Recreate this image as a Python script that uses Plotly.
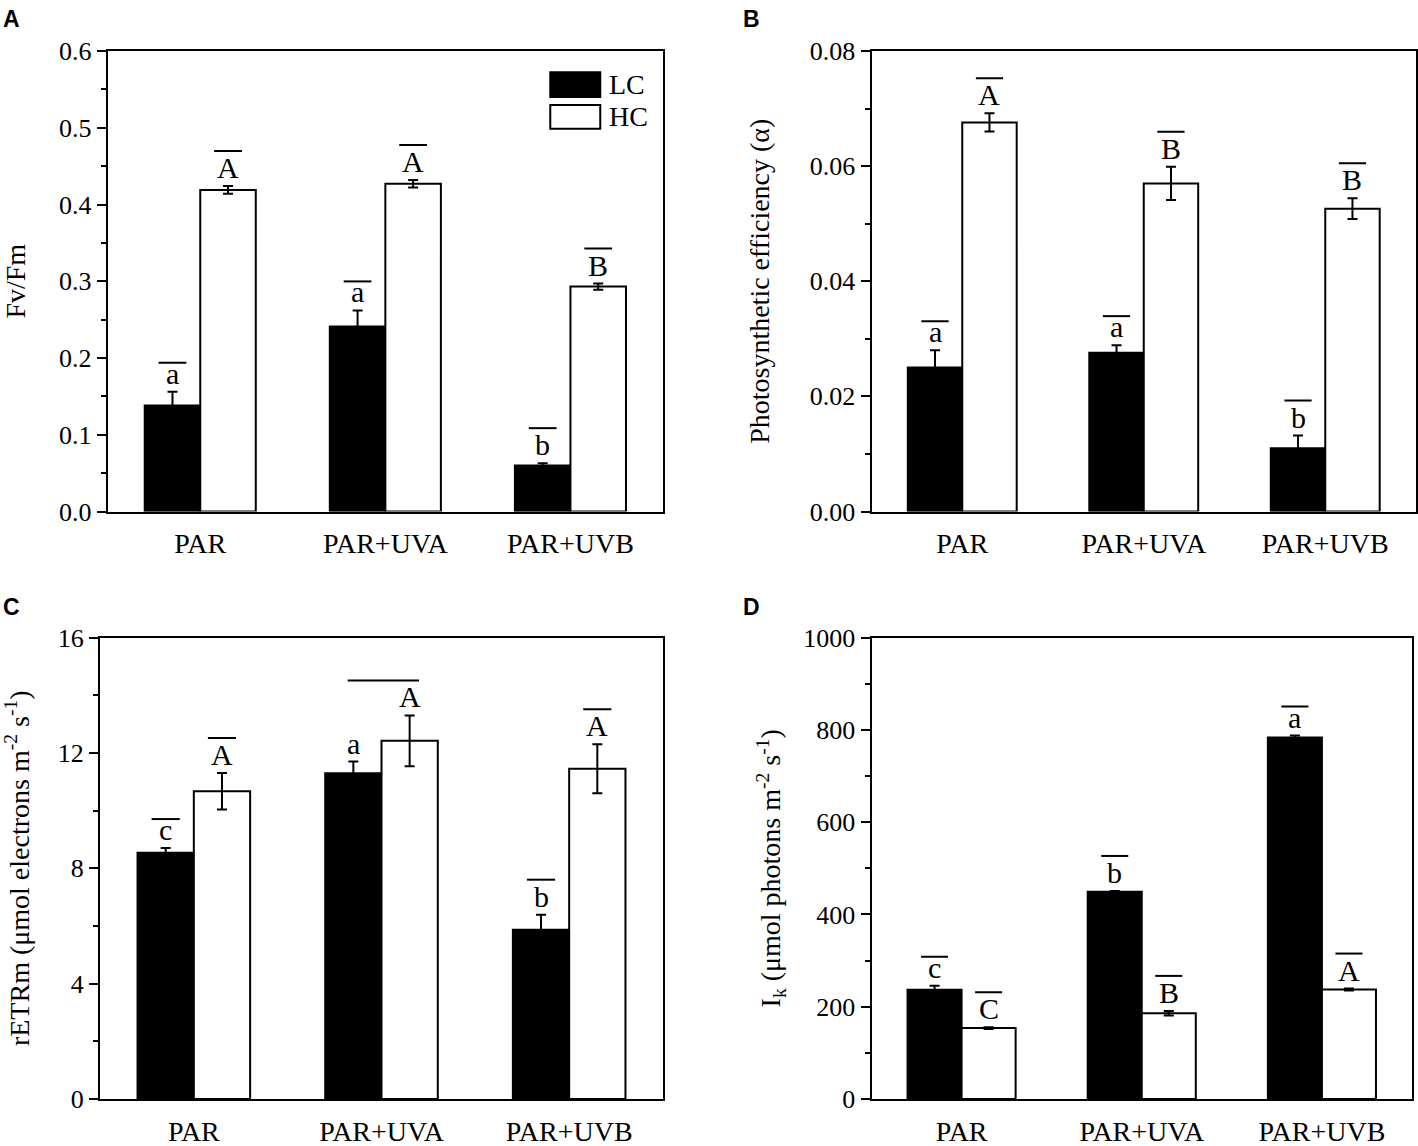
import plotly.graph_objects as go

# ---- data ----
CATEGORIES = ["PAR", "PAR+UVA", "PAR+UVB"]

FVFM_LC = [0.138, 0.241, 0.060]
FVFM_LC_ERR = [0.018, 0.021, 0.003]
FVFM_HC = [0.419, 0.427, 0.293]
FVFM_HC_ERR = [0.005, 0.005, 0.004]

ALPHA_LC = [0.0250, 0.0276, 0.0110]
ALPHA_LC_ERR = [0.0030, 0.0013, 0.0022]
ALPHA_HC = [0.0676, 0.0570, 0.0526]
ALPHA_HC_ERR = [0.0016, 0.0029, 0.0018]

RETR_LC = [8.54, 11.29, 5.87]
RETR_LC_ERR = [0.16, 0.41, 0.52]
RETR_HC = [10.67, 12.42, 11.45]
RETR_HC_ERR = [0.63, 0.88, 0.85]

IK_LC = [236.6, 449.3, 783.4]
IK_LC_ERR = [9.0, 1.5, 4.0]
IK_HC = [153.6, 185.9, 237.3]
IK_HC_ERR = [2.0, 5.0, 2.0]

# significance letters
FVFM_LETTERS_LC = ["a", "a", "b"]
FVFM_LETTERS_HC = ["A", "A", "B"]
ALPHA_LETTERS_LC = ["a", "a", "b"]
ALPHA_LETTERS_HC = ["A", "B", "B"]
RETR_LETTERS_LC = ["c", "a", "b"]
RETR_LETTERS_HC = ["A", "A", "A"]
IK_LETTERS_LC = ["c", "b", "a"]
IK_LETTERS_HC = ["C", "B", "A"]

W, H = 1418, 1146
BAR_W = 0.3
SERIF = "Liberation Serif"
SANS = "Liberation Sans"
BLACK = "#000000"


def dom_x(left, right):
    return [left / W, right / W]


def dom_y(top, bottom):
    return [1 - bottom / H, 1 - top / H]


panels = [
    dict(tag="A", x=(107.7, 663), y=(51, 511.5), lc=FVFM_LC, lc_err=FVFM_LC_ERR,
         hc=FVFM_HC, hc_err=FVFM_HC_ERR, let_lc=FVFM_LETTERS_LC, let_hc=FVFM_LETTERS_HC,
         yrange=[0, 0.6], dtick=0.1, minor=0.05, fmt=".1f", title="Fv/Fm", standoff=30),
    dict(tag="B", x=(871.5, 1416), y=(51, 511.5), lc=ALPHA_LC, lc_err=ALPHA_LC_ERR,
         hc=ALPHA_HC, hc_err=ALPHA_HC_ERR, let_lc=ALPHA_LETTERS_LC, let_hc=ALPHA_LETTERS_HC,
         yrange=[0, 0.08], dtick=0.02, minor=0.01, fmt=".2f",
         title="Photosynthetic efficiency (α)", standoff=32),
    dict(tag="C", x=(100, 663), y=(637.5, 1099), lc=RETR_LC, lc_err=RETR_LC_ERR,
         hc=RETR_HC, hc_err=RETR_HC_ERR, let_lc=RETR_LETTERS_LC, let_hc=RETR_LETTERS_HC,
         yrange=[0, 16], dtick=4, minor=2, fmt="d",
         title="rETRm (μmol electrons m<sup>-2</sup> s<sup>-1</sup>)", standoff=36),
    dict(tag="D", x=(871.5, 1412), y=(637.5, 1099), lc=IK_LC, lc_err=IK_LC_ERR,
         hc=IK_HC, hc_err=IK_HC_ERR, let_lc=IK_LETTERS_LC, let_hc=IK_LETTERS_HC,
         yrange=[0, 1000], dtick=200, minor=100, fmt="d",
         title="I<sub>k</sub> (μmol photons m<sup>-2</sup> s<sup>-1</sup>)", standoff=14),
]

# panel C, PAR+UVA: one long bar over both columns instead of two short ones
NO_OVERLINE_LC = {("C", 1)}
WIDE_OVERLINE_HC = {("C", 1): (-0.18, 0.20)}

fig = go.Figure()
shapes = []
annotations = []

for n, p in enumerate(panels, start=1):
    sfx = "" if n == 1 else str(n)
    xa, ya = "x" + sfx, "y" + sfx
    xs = list(range(len(CATEGORIES)))

    for vals, errs, fill, off in ((p["lc"], p["lc_err"], BLACK, -BAR_W),
                                  (p["hc"], p["hc_err"], "white", 0.0)):
        fig.add_trace(go.Bar(
            x=xs, y=vals, width=BAR_W, offset=off,
            marker=dict(color=fill, line=dict(color=BLACK, width=2)),
            error_y=dict(type="data", array=errs, color=BLACK, thickness=2, width=5),
            xaxis=xa, yaxis=ya, showlegend=False,
        ))

    # letters with overlines
    for side, vals, errs, letters in (("lc", p["lc"], p["lc_err"], p["let_lc"]),
                                      ("hc", p["hc"], p["hc_err"], p["let_hc"])):
        for i, (v, e, t) in enumerate(zip(vals, errs, letters)):
            cx = i - BAR_W / 2 if side == "lc" else i + BAR_W / 2
            top = v + e
            annotations.append(dict(
                x=cx, y=top, xref=xa, yref=ya, text=t, showarrow=False,
                yanchor="bottom", yshift=0,
                font=dict(family=SERIF, size=30, color=BLACK),
            ))
            if side == "lc" and (p["tag"], i) in NO_OVERLINE_LC:
                continue
            lift = 29 if t in "ac" else 35
            if side == "hc" and (p["tag"], i) in WIDE_OVERLINE_HC:
                a, b = WIDE_OVERLINE_HC[(p["tag"], i)]
                x0, x1 = i + a, i + b
            else:
                x0, x1 = cx - 0.075, cx + 0.075
            shapes.append(dict(
                type="line", xref=xa, yref=ya, ysizemode="pixel", yanchor=top,
                x0=x0, x1=x1, y0=lift, y1=lift,
                line=dict(color=BLACK, width=2),
            ))

    fig.layout["xaxis" + sfx] = dict(
        domain=dom_x(*p["x"]), anchor=ya, range=[-0.5, 2.5],
        tickvals=xs, ticktext=CATEGORIES, ticks="", automargin=False,
        showline=True, linecolor=BLACK, linewidth=2, mirror=True,
        showgrid=False, zeroline=False, ticklabelstandoff=6,
        tickfont=dict(family=SERIF, size=28, color=BLACK),
    )
    fig.layout["yaxis" + sfx] = dict(
        domain=dom_y(*p["y"]), anchor=xa, range=p["yrange"], dtick=p["dtick"],
        tickformat=p["fmt"], ticks="outside", ticklen=9, tickwidth=2, tickcolor=BLACK,
        minor=dict(dtick=p["minor"], ticks="outside", ticklen=5, tickwidth=2,
                   tickcolor=BLACK, showgrid=False),
        showline=True, linecolor=BLACK, linewidth=2, mirror=True,
        showgrid=False, zeroline=False, automargin=False,
        tickfont=dict(family=SERIF, size=26, color=BLACK),
        title=dict(text=p["title"], standoff=p["standoff"],
                   font=dict(family=SERIF, size=28, color=BLACK)),
    )

    # panel tag
    annotations.append(dict(
        x=(1 if n in (1, 3) else 741) / W, y=1 - (4 if n <= 2 else 592) / H,
        xref="paper", yref="paper", xanchor="left", yanchor="top",
        text="<b>%s</b>" % p["tag"], showarrow=False,
        font=dict(family=SANS, size=23, color=BLACK),
    ))

# legend drawn in panel A
for (y0, y1, fill, name) in ((0.900, 0.954, BLACK, "LC"), (0.831, 0.883, "white", "HC")):
    shapes.append(dict(type="rect", xref="x domain", yref="y domain",
                       x0=0.797, x1=0.887, y0=y0, y1=y1,
                       fillcolor=fill, line=dict(color=BLACK, width=2)))
    annotations.append(dict(x=0.899, y=(y0 + y1) / 2, xref="x domain", yref="y domain",
                            xanchor="left", yanchor="middle", text=name, showarrow=False,
                            font=dict(family=SERIF, size=28, color=BLACK)))

fig.update_layout(
    template="none",
    width=W, height=H,
    margin=dict(l=0, r=0, t=0, b=0),
    paper_bgcolor="white", plot_bgcolor="white",
    barmode="overlay",
    shapes=shapes, annotations=annotations,
)

fig.write_html("out.html", config={"displayModeBar": False},
               post_script="document.body.style.margin = '0px';")
